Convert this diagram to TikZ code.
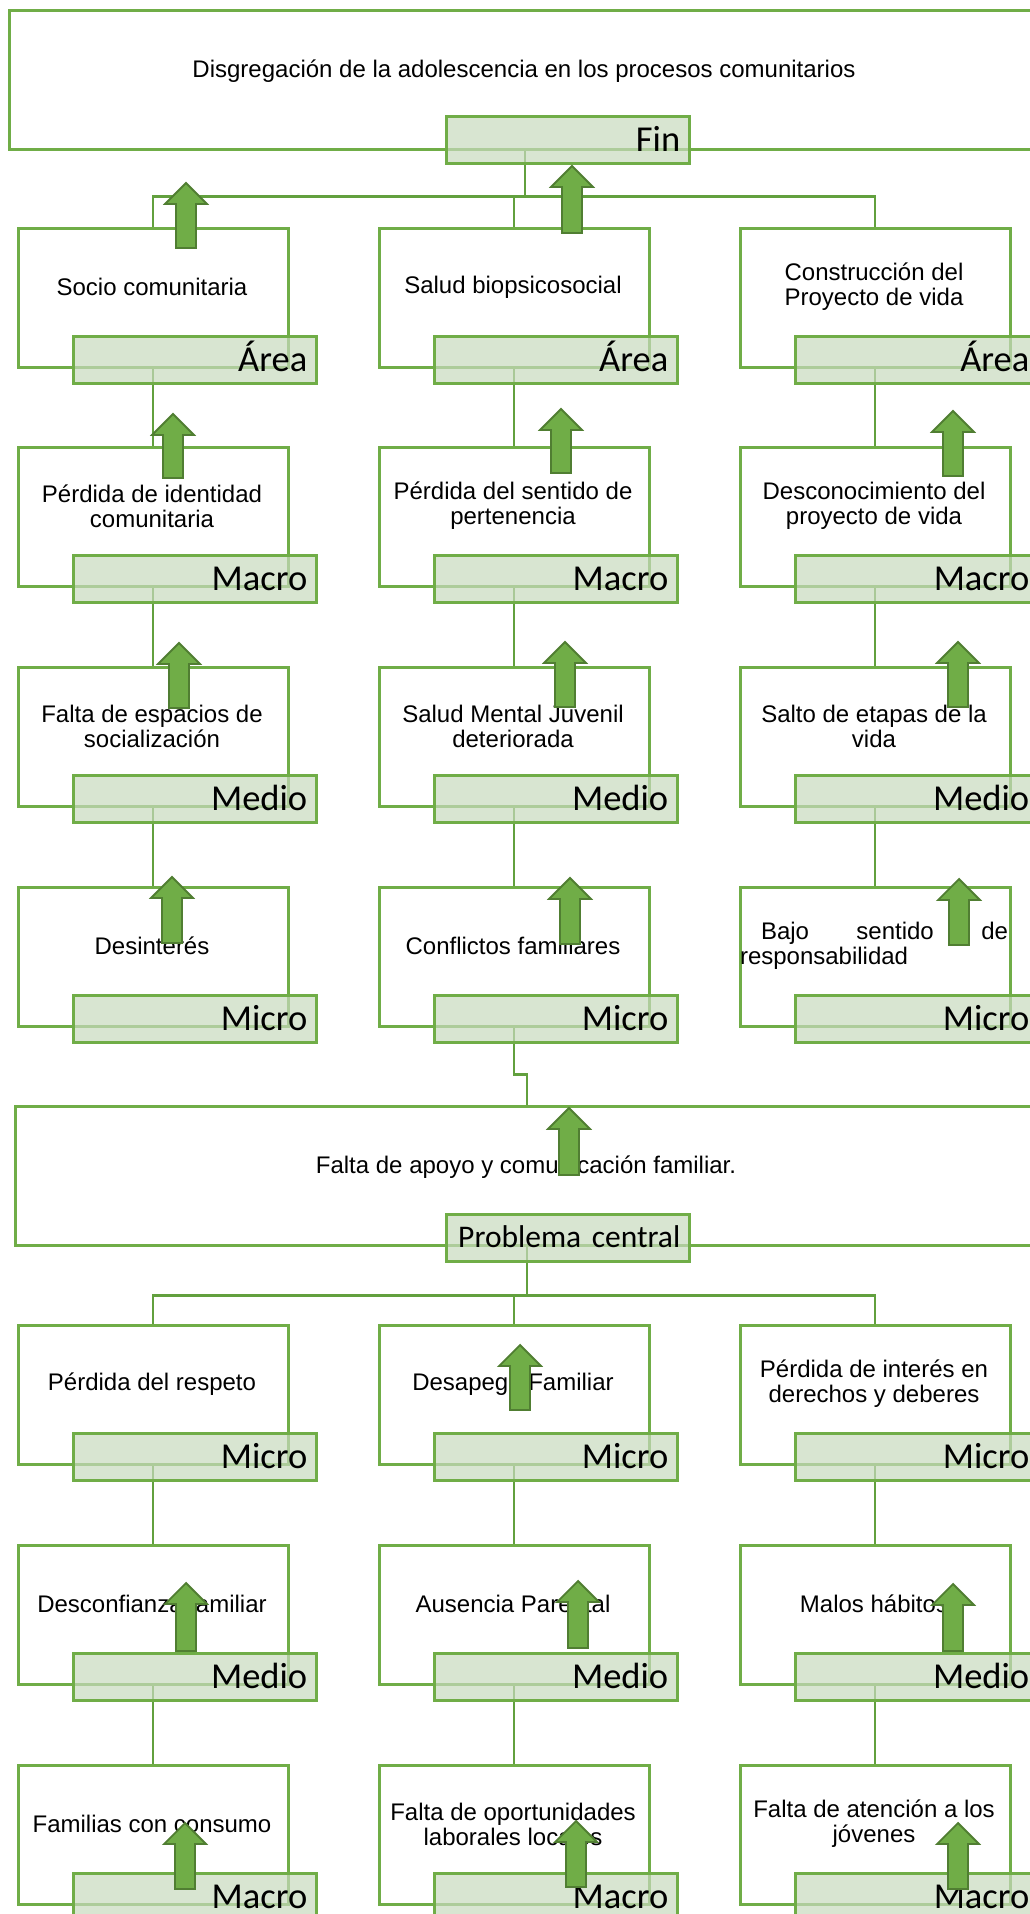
\documentclass[tikz,border=0pt]{standalone}
\usepackage{fontspec}
\setmainfont{Liberation Sans}
\newfontfamily\lblfont{Carlito}
\usetikzlibrary{backgrounds}
\definecolor{bgreen}{RGB}{112,173,71}
\definecolor{cgreen}{RGB}{98,160,62}
\definecolor{lfill}{RGB}{200,218,190}
\definecolor{adark}{RGB}{80,126,50}
\tikzset{
  box/.style={draw=bgreen, line width=2.5pt, minimum width=270pt, minimum height=139pt, inner sep=0pt, anchor=north west},
  widebox/.style={draw=bgreen, line width=2.5pt, minimum height=139pt, inner sep=0pt, anchor=north west},
  lbl/.style={draw=bgreen, line width=2.5pt, fill=lfill, fill opacity=0.7, text opacity=1, minimum height=47pt,
    inner xsep=9pt, inner ysep=0pt, text width=225pt, align=right, text height=23pt, text depth=0pt,
    font=\lblfont\fontsize{36.5}{36.5}\selectfont, anchor=north west},
  txt/.style={font=\fontsize{24}{25}\selectfont, align=center, inner sep=0pt},
  conn/.style={draw=cgreen, line width=2.2pt},
  uparr/.style={fill=bgreen, draw=adark, line width=1.8pt, line join=miter}
}
\newcommand{\cell}[5]{%
  \node[box] (#1) at (#2,#3) {};
  \node[txt] (#1t) at (#2+135,#3+60) {#4};
  \node[lbl] (#1l) at (#2+55,#3+108) {#5};
}
\newcommand{\blockup}[3]{%
  \path[uparr] (#1,#2) -- (#1+21,#2+21) -- (#1+10,#2+21) -- (#1+10,#3) -- (#1-10,#3) -- (#1-10,#2+21) -- (#1-21,#2+21) -- cycle;
}
\begin{document}
\begin{tikzpicture}[x=1pt,y=-1pt]
\useasboundingbox (0,0) rectangle (1030,1914);
\clip (0,0) rectangle (1030,1914);
% top box (Fin)
\node[widebox, minimum width=1032pt] (top) at (8,9) {};
\node[txt] (topt) at (524,71) {Disgregación de la adolescencia en los procesos comunitarios};
\node[lbl] (topl) at (445,115) {Fin};
% central problem
\node[widebox, minimum width=1024pt] (cen) at (14,1105) {};
\node[txt] (cent) at (526,1167) {Falta de apoyo y comunicación familiar.};
\node[lbl, font=\lblfont\fontsize{31.5}{31.5}\selectfont, text height=20pt] (cenl) at (445,1213) {Problema central};
% cells
\cell{a1}{17}{227}{Socio comunitaria}{Área}
\cell{a2}{378}{227}{Salud biopsicosocial}{Área}
\cell{a3}{739}{227}{\smash{Construcción} del\\Proyecto de vida}{Área}
\cell{b1}{17}{446}{Pérdida de identidad\\comunitaria}{Macro}
\cell{b2}{378}{446}{Pérdida del sentido de\\pertenencia}{Macro}
\cell{b3}{739}{446}{Desconocimiento del\\proyecto de vida}{Macro}
\cell{c1}{17}{666}{Falta de espacios de\\socialización}{Medio}
\cell{c2}{378}{666}{Salud Mental Juvenil\\deteriorada}{Medio}
\cell{c3}{739}{666}{Salto de etapas de la\\vida}{Medio}
\cell{d1}{17}{886}{Desinterés}{Micro}
\cell{d2}{378}{886}{Conflictos familiares}{Micro}
\cell{d3}{739}{886}{\parbox{268pt}{\makebox[268pt][s]{\hspace*{21pt}Bajo\hfill sentido\hfill de}\\responsabilidad}}{Micro}
\cell{e1}{17}{1324}{Pérdida del respeto}{Micro}
\cell{e2}{378}{1324}{Desapego Familiar}{Micro}
\cell{e3}{739}{1324}{Pérdida de interés en\\derechos y deberes}{Micro}
\cell{f1}{17}{1544}{Desconfianza familiar}{Medio}
\cell{f2}{378}{1544}{Ausencia Parental}{Medio}
\cell{f3}{739}{1544}{Malos hábitos}{Medio}
\cell{g1}{17}{1764}{Familias con consumo}{Macro}
\cell{g2}{378}{1764}{Falta de oportunidades\\laborales locales}{Macro}
\cell{g3}{739}{1764}{Falta de atención a los\\jóvenes}{Macro}
% connectors
\begin{scope}[on background layer]
  \draw[conn] (top.south) -- ++(0,46) coordinate (j1);
  \draw[conn] (a1.north) |- (j1) -| (a3.north);
  \draw[conn] (j1 -| a2.north) -- (a2.north);
  \foreach \c in {1,2,3}{
    \draw[conn] (a\c.south) -- (b\c.north);
    \draw[conn] (b\c.south) -- (c\c.north);
    \draw[conn] (c\c.south) -- (d\c.north);
    \draw[conn] (e\c.south) -- (f\c.north);
    \draw[conn] (f\c.south) -- (g\c.north);
  }
  \draw[conn] (d2.south) -- ++(0,47) -| (cen.north);
  \draw[conn] (cen.south) -- ++(0,49) coordinate (j2);
  \draw[conn] (e1.north) |- (j2) -| (e3.north);
  \draw[conn] (j2 -| e2.north) -- (e2.north);
\end{scope}
% block arrows
\blockup{186}{183}{248}
\blockup{572}{166}{233}
\blockup{173}{414}{478}
\blockup{561}{409}{473}
\blockup{953}{411}{476}
\blockup{179}{643}{708}
\blockup{565}{642}{707}
\blockup{958}{642}{707}
\blockup{172}{877}{943}
\blockup{570}{878}{944}
\blockup{959}{879}{945}
\blockup{569}{1108}{1175}
\blockup{520}{1345}{1410}
\blockup{186}{1583}{1651}
\blockup{578}{1581}{1648}
\blockup{953}{1584}{1651}
\blockup{185}{1823}{1889}
\blockup{576}{1821}{1887}
\blockup{958}{1823}{1889}
\end{tikzpicture}
\end{document}
